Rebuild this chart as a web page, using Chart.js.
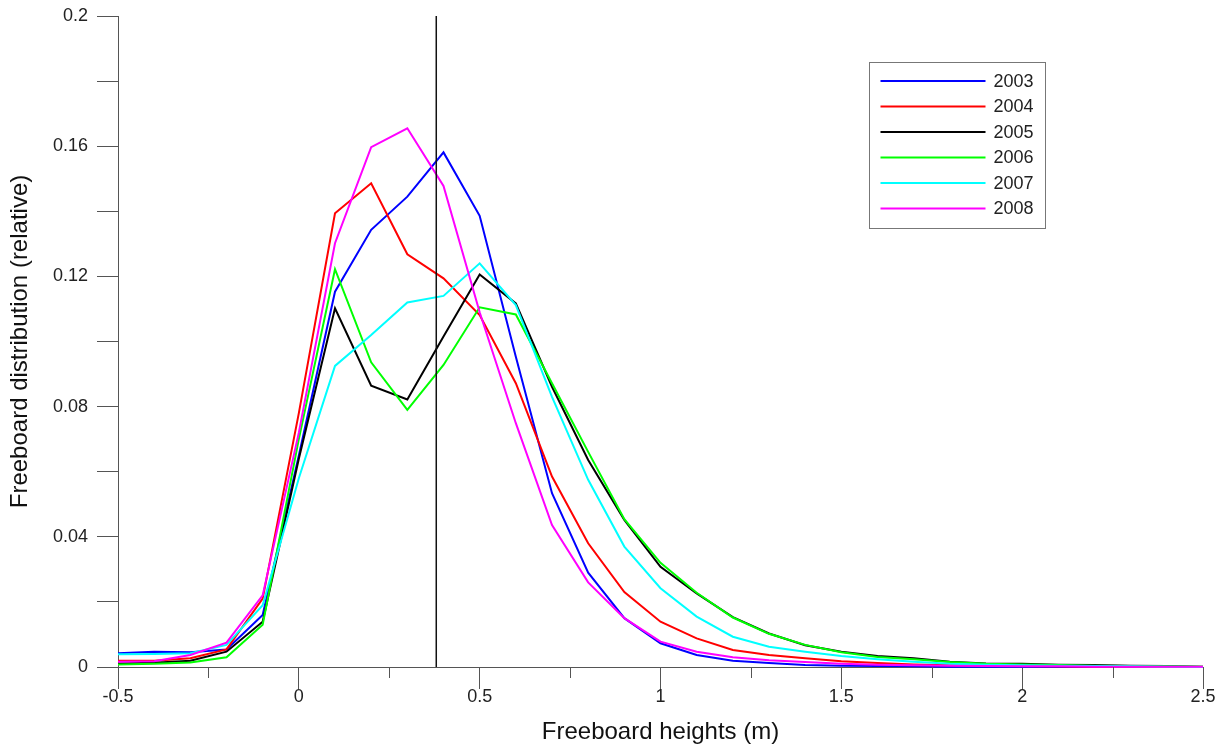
<!DOCTYPE html>
<html><head><meta charset="utf-8">
<script src="https://cdn.jsdelivr.net/npm/chart.js@4/dist/chart.umd.min.js"></script>
<style>html,body{margin:0;padding:0;background:#fff;}</style>
</head><body>
<canvas id="c" width="1219" height="747"></canvas>
<script>
const xValues = [-0.5,-0.4,-0.3,-0.2,-0.1,0,0.1,0.2,0.3,0.4,0.5,0.6,0.7,0.8,0.9,1.0,1.1,1.2,1.3,1.4,1.5,1.6,1.7,1.8,1.9,2.0,2.1,2.2,2.3,2.4,2.5];
const years = ['2003','2004','2005','2006','2007','2008'];
const s2003 = [0.0042,0.0047,0.0045,0.0054,0.016,0.065,0.1153,0.1343,0.1445,0.1581,0.1386,0.0953,0.0534,0.029,0.015,0.0073,0.0037,0.0019,0.0012,0.0006,0.0004,0.0003,0.0002,0.0001,0.0001,0.0001,0.0001,0,0,0,0];
const s2004 = [0.0019,0.0019,0.0027,0.0054,0.021,0.078,0.1394,0.1486,0.1268,0.1194,0.1081,0.0872,0.0585,0.038,0.023,0.0139,0.0088,0.0052,0.0037,0.0027,0.0018,0.0012,0.0008,0.0005,0.0004,0.0003,0.0002,0.0001,0.0001,0,0];
const s2005 = [0.0011,0.0013,0.0019,0.0047,0.0139,0.064,0.1102,0.0864,0.0822,0.1015,0.1206,0.1117,0.0861,0.0636,0.0452,0.0308,0.0226,0.0153,0.0103,0.0067,0.0047,0.0034,0.0027,0.0016,0.0011,0.001,0.0007,0.0006,0.0004,0.0003,0.0001];
const s2006 = [0.0008,0.001,0.0014,0.003,0.013,0.07,0.1222,0.0936,0.079,0.0928,0.1105,0.1083,0.0872,0.0661,0.0454,0.032,0.0228,0.0152,0.0102,0.0068,0.0045,0.0031,0.0024,0.0015,0.001,0.0008,0.0006,0.0004,0.0003,0.0002,0.0001];
const s2007 = [0.0039,0.004,0.0042,0.0068,0.019,0.058,0.0925,0.102,0.112,0.114,0.124,0.1112,0.083,0.0575,0.037,0.0242,0.0155,0.0093,0.0062,0.0047,0.0034,0.0024,0.0016,0.001,0.0007,0.0005,0.0004,0.0003,0.0002,0.0001,0];
const s2008 = [0.0016,0.0018,0.0037,0.0075,0.022,0.072,0.1302,0.1597,0.1655,0.1478,0.109,0.0749,0.0436,0.026,0.015,0.0078,0.0047,0.003,0.0021,0.0015,0.001,0.0007,0.0005,0.0004,0.0003,0.0002,0.0002,0.0001,0.0001,0.0001,0.0001];
const markerX = 0.38;
const xTickLabels = ['-0.5','0','0.5','1','1.5','2','2.5'];
const yTickLabels = ['0','0.04','0.08','0.12','0.16','0.2'];

const seriesList = [s2003,s2004,s2005,s2006,s2007,s2008];
const colors = ['#0000ff','#ff0000','#000000','#00ff00','#00ffff','#ff00ff'];
const FONT = "'Liberation Sans', Arial, sans-serif";

const datasets = seriesList.map((s,i)=>({
  label: years[i],
  data: xValues.map((x,j)=>({x:x,y:s[j]})),
  borderColor: colors[i],
  backgroundColor: colors[i],
  borderWidth: 2,
  pointRadius: 0,
  tension: 0,
  fill: false,
  clip: 4,
  order: 10 - i
}));
datasets.push({
  label: 'marker',
  data: [{x:markerX,y:0},{x:markerX,y:0.2}],
  borderColor: '#111',
  borderWidth: 1.5,
  pointRadius: 0,
  fill: false,
  order: 0
});

const minorTicks = {
  id: 'minorTicks',
  afterDraw(chart){
    const xs = chart.scales.x, ctx = chart.ctx;
    const ticks = xs.ticks.map(t=>t.value);
    ctx.save();
    ctx.strokeStyle = '#555'; ctx.lineWidth = 1;
    for (let i=0;i<ticks.length-1;i++){
      const v = (ticks[i]+ticks[i+1])/2;
      const px = Math.round(xs.getPixelForValue(v))+0.5;
      ctx.beginPath(); ctx.moveTo(px, xs.top); ctx.lineTo(px, xs.top+11); ctx.stroke();
    }
    ctx.restore();
  }
};

const boxLegend = {
  id: 'boxLegend',
  afterDraw(chart){
    const ctx = chart.ctx, a = chart.chartArea;
    const bx = a.right - 333.5, by = a.top + 46.5, bw = 176, bh = 166;
    ctx.save();
    ctx.fillStyle = '#fff';
    ctx.fillRect(bx, by, bw, bh);
    ctx.strokeStyle = '#777'; ctx.lineWidth = 1;
    ctx.strokeRect(bx, by, bw, bh);
    ctx.font = '18px ' + FONT;
    ctx.textBaseline = 'middle';
    ctx.fillStyle = '#222';
    years.forEach((y,i)=>{
      const cy = by + 18.5 + i*25.5;
      ctx.strokeStyle = colors[i]; ctx.lineWidth = 2;
      ctx.beginPath(); ctx.moveTo(bx+11, cy); ctx.lineTo(bx+116, cy); ctx.stroke();
      ctx.fillText(y, bx+124, cy+1);
    });
    ctx.restore();
  }
};

new Chart(document.getElementById('c'), {
  type: 'line',
  data: { datasets },
  options: {
    responsive: false,
    animation: false,
    devicePixelRatio: 1,
    layout: { padding: { left: 0, right: 16, top: 16, bottom: 0 } },
    plugins: { legend: { display: false }, tooltip: { enabled: false } },
    scales: {
      x: {
        type: 'linear', min: -0.5, max: 2.5,
        afterFit: (s)=>{ s.height = 80; s.paddingLeft = 0; s.paddingRight = 0; },
        grid: { drawOnChartArea: false, drawTicks: true, tickLength: 22, color: '#555', lineWidth: 1 },
        border: { display: true, color: '#555', width: 1 },
        ticks: { stepSize: 0.5, autoSkip: false, maxRotation: 0, padding: -3, color: '#222',
          font: { family: FONT, size: 18 },
          callback: (v)=>{ const i = Math.round((v+0.5)/0.5); return Math.abs(v-(-0.5+i*0.5))<1e-9 ? xTickLabels[i] : ''; } },
        title: { display: true, text: 'Freeboard heights (m)', color: '#111',
          font: { family: FONT, size: 24 }, padding: { top: 2, bottom: 0 } }
      },
      y: {
        type: 'linear', min: 0, max: 0.2,
        afterFit: (s)=>{ s.width = 118; s.paddingTop = 0; s.paddingBottom = 0; },
        grid: { drawOnChartArea: false, drawTicks: true, tickLength: 21, color: '#555', lineWidth: 1 },
        border: { display: true, color: '#555', width: 1 },
        ticks: { stepSize: 0.02, autoSkip: false, padding: 9, color: '#222',
          font: { family: FONT, size: 18 },
          callback: (v)=>{ const k = Math.round(v/0.04); return Math.abs(v-k*0.04)<1e-9 ? yTickLabels[k] : ''; } },
        title: { display: true, text: 'Freeboard distribution (relative)', color: '#111',
          font: { family: FONT, size: 24 }, padding: { top: 6, bottom: 0 } }
      }
    }
  },
  plugins: [minorTicks, boxLegend]
});
</script>
</body></html>
